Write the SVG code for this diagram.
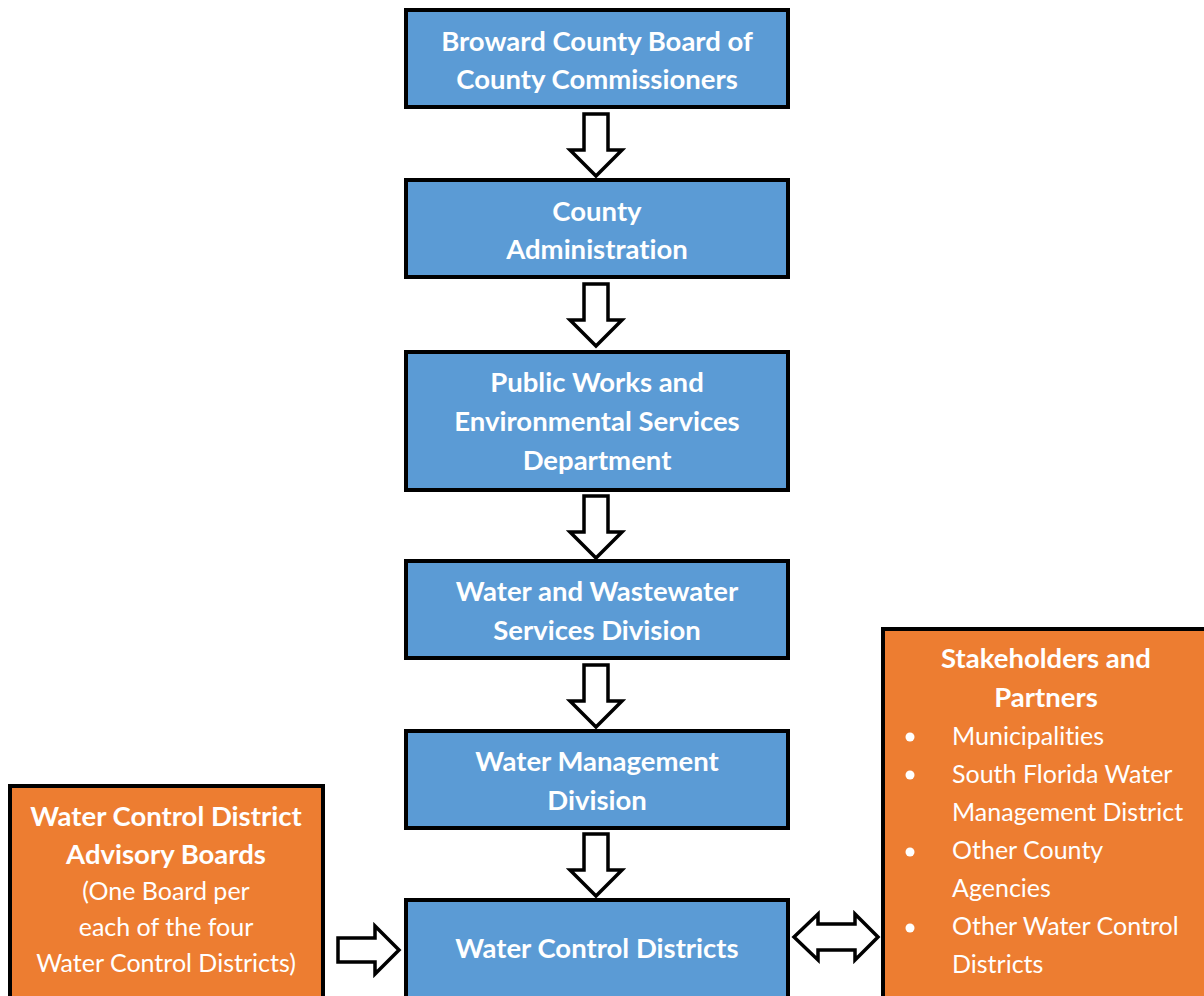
<svg xmlns="http://www.w3.org/2000/svg" width="1204" height="996" viewBox="0 0 1204 996">
<style>
.box{stroke:#000;stroke-width:4}
.blue{fill:#5B9BD5}
.orange{fill:#ED7D31}
text{font-family:Lato,"Open Sans","Liberation Sans",sans-serif;font-size:25px;fill:#fff;font-variant-ligatures:none}
.b{font-weight:bold;font-size:27.5px}
.c{text-anchor:middle}
.arrow{fill:#fff;stroke:#000;stroke-width:3.5;stroke-linejoin:miter}
</style>
<defs>
<path id="down" d="M-12,0 H12 V36 H26 L0,62 L-26,36 H-12 Z"/>
</defs>
<g id="n1">
<rect class="box blue" x="406" y="10" width="382" height="97"/>
<text class="b c" x="597" y="51">Broward County Board of</text>
<text class="b c" x="597" y="89">County Commissioners</text>
</g>
<g id="n2">
<rect class="box blue" x="406" y="180" width="382" height="97"/>
<text class="b c" x="597" y="221">County</text>
<text class="b c" x="597" y="259">Administration</text>
</g>
<g id="n3">
<rect class="box blue" x="406" y="352" width="382" height="138"/>
<text class="b c" x="597" y="392">Public Works and</text>
<text class="b c" x="597" y="431">Environmental Services</text>
<text class="b c" x="597" y="470">Department</text>
</g>
<g id="n4">
<rect class="box blue" x="406" y="561" width="382" height="97"/>
<text class="b c" x="597" y="601">Water and Wastewater</text>
<text class="b c" x="597" y="640">Services Division</text>
</g>
<g id="n5">
<rect class="box blue" x="406" y="731" width="382" height="97"/>
<text class="b c" x="597" y="771">Water Management</text>
<text class="b c" x="597" y="810">Division</text>
</g>
<g id="n6">
<rect class="box blue" x="406" y="900" width="382" height="110"/>
<text class="b c" x="597" y="958">Water Control Districts</text>
</g>
<g id="n7">
<rect class="box orange" x="10" y="786" width="313" height="230"/>
<text class="b c" x="166" y="826">Water Control District</text>
<text class="b c" x="166" y="864">Advisory Boards</text>
<text class="c" x="166" y="900">(One Board per</text>
<text class="c" x="166" y="936">each of the four</text>
<text class="c" x="166" y="972">Water Control Districts)</text>
</g>
<g id="n8">
<rect class="box orange" x="883" y="629" width="340" height="400"/>
<text class="b c" x="1046" y="668">Stakeholders and</text>
<text class="b c" x="1046" y="707">Partners</text>
<circle cx="910" cy="737" r="4.5" fill="#fff"/>
<circle cx="910" cy="775" r="4.5" fill="#fff"/>
<circle cx="910" cy="852" r="4.5" fill="#fff"/>
<circle cx="910" cy="928" r="4.5" fill="#fff"/>
<text x="952" y="745">Municipalities</text>
<text x="952" y="783">South Florida Water</text>
<text x="952" y="821">Management District</text>
<text x="952" y="859">Other County</text>
<text x="952" y="897">Agencies</text>
<text x="952" y="935">Other Water Control</text>
<text x="952" y="973">Districts</text>
</g>
<g id="connectors">
<use href="#down" class="arrow" x="596" y="114"/>
<use href="#down" class="arrow" x="596" y="284"/>
<use href="#down" class="arrow" x="596" y="496"/>
<use href="#down" class="arrow" x="596" y="665"/>
<use href="#down" class="arrow" x="596" y="834"/>
<path class="arrow" d="M338,938 H375 V926 L399,950 L375,974 V962 H338 Z"/>
<path class="arrow" d="M794,937 L818,914 V924 H855 V914 L878,937 L855,960 V950 H818 V960 Z"/>
</g>
</svg>
